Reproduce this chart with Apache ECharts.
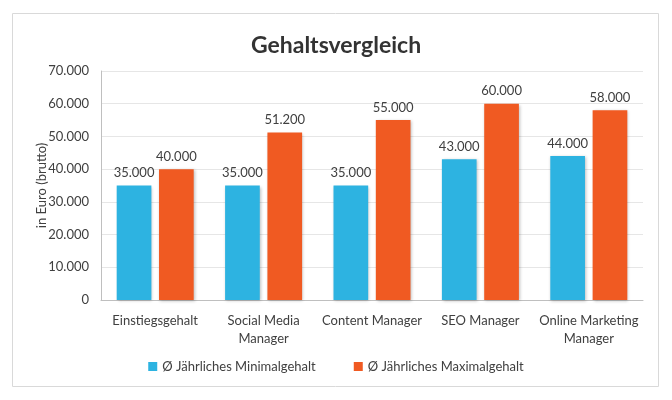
<!DOCTYPE html>
<html><head><meta charset="utf-8">
<script src="https://cdn.jsdelivr.net/npm/echarts@6/dist/echarts.min.js"></script>
<style>html,body{margin:0;padding:0;background:#fff}#c{width:672px;height:400px}</style>
</head><body><div id="c"></div>
<script>
const categories = ["Einstiegsgehalt", "Social Media\nManager", "Content Manager", "SEO Manager", "Online Marketing\nManager"];
const minSalary = [35000, 35000, 35000, 43000, 44000];
const maxSalary = [40000, 51200, 55000, 60000, 58000];
const seriesNames = ["Ø Jährliches Minimalgehalt", "Ø Jährliches Maximalgehalt"];

const fmt = v => String(v).replace(/\B(?=(\d{3})+(?!\d))/g, ".");
const FONT = "Lato";
const chart = echarts.init(document.getElementById('c'), null, {renderer: 'canvas'});
const labelOpt = {show: true, position: 'top', distance: 6, color: '#404040', fontFamily: FONT, fontSize: 13, formatter: p => fmt(p.value)};
const shadow = {shadowBlur: 3, shadowColor: 'rgba(0,0,0,0.25)', shadowOffsetX: 1, shadowOffsetY: 1};
chart.setOption({
  animation: false,
  textStyle: {fontFamily: FONT},
  graphic: [{type: 'rect', shape: {x: 12.5, y: 13.5, width: 646, height: 373}, style: {fill: 'none', stroke: '#d9d9d9', lineWidth: 1}, z: -1}],
  title: {text: 'Gehaltsvergleich', left: 'center', top: 29, textStyle: {fontFamily: FONT, fontSize: 23, fontWeight: 'bold', color: '#333'}},
  legend: {bottom: 22, left: 'center', itemWidth: 9, itemHeight: 9, itemGap: 38, icon: 'rect', textStyle: {fontFamily: FONT, fontSize: 13, color: '#404040'}},
  grid: {left: 101, right: 29, top: 71, bottom: 100},
  xAxis: {type: 'category', data: categories, axisTick: {show: false},
    axisLine: {lineStyle: {color: '#bfbfbf'}},
    axisLabel: {color: '#404040', fontFamily: FONT, fontSize: 13, margin: 12, interval: 0, lineHeight: 18}},
  yAxis: {type: 'value', min: 0, max: 70000, interval: 10000, name: 'in Euro (brutto)', nameLocation: 'middle', nameGap: 53, nameMoveOverlap: false,
    nameTextStyle: {color: '#404040', fontFamily: FONT, fontSize: 13},
    axisLine: {show: true, lineStyle: {color: '#bfbfbf'}},
    splitLine: {lineStyle: {color: '#e6e6e6'}},
    axisLabel: {color: '#404040', fontFamily: FONT, fontSize: 13, margin: 12, formatter: v => fmt(v)}},
  series: [
    {name: seriesNames[0], type: 'bar', data: minSalary, barWidth: '32%', barGap: '22%', itemStyle: Object.assign({color: '#2db3e1'}, shadow), label: labelOpt},
    {name: seriesNames[1], type: 'bar', data: maxSalary, barWidth: '32%', itemStyle: Object.assign({color: '#f05a22'}, shadow), label: labelOpt}
  ]
});
</script></body></html>
